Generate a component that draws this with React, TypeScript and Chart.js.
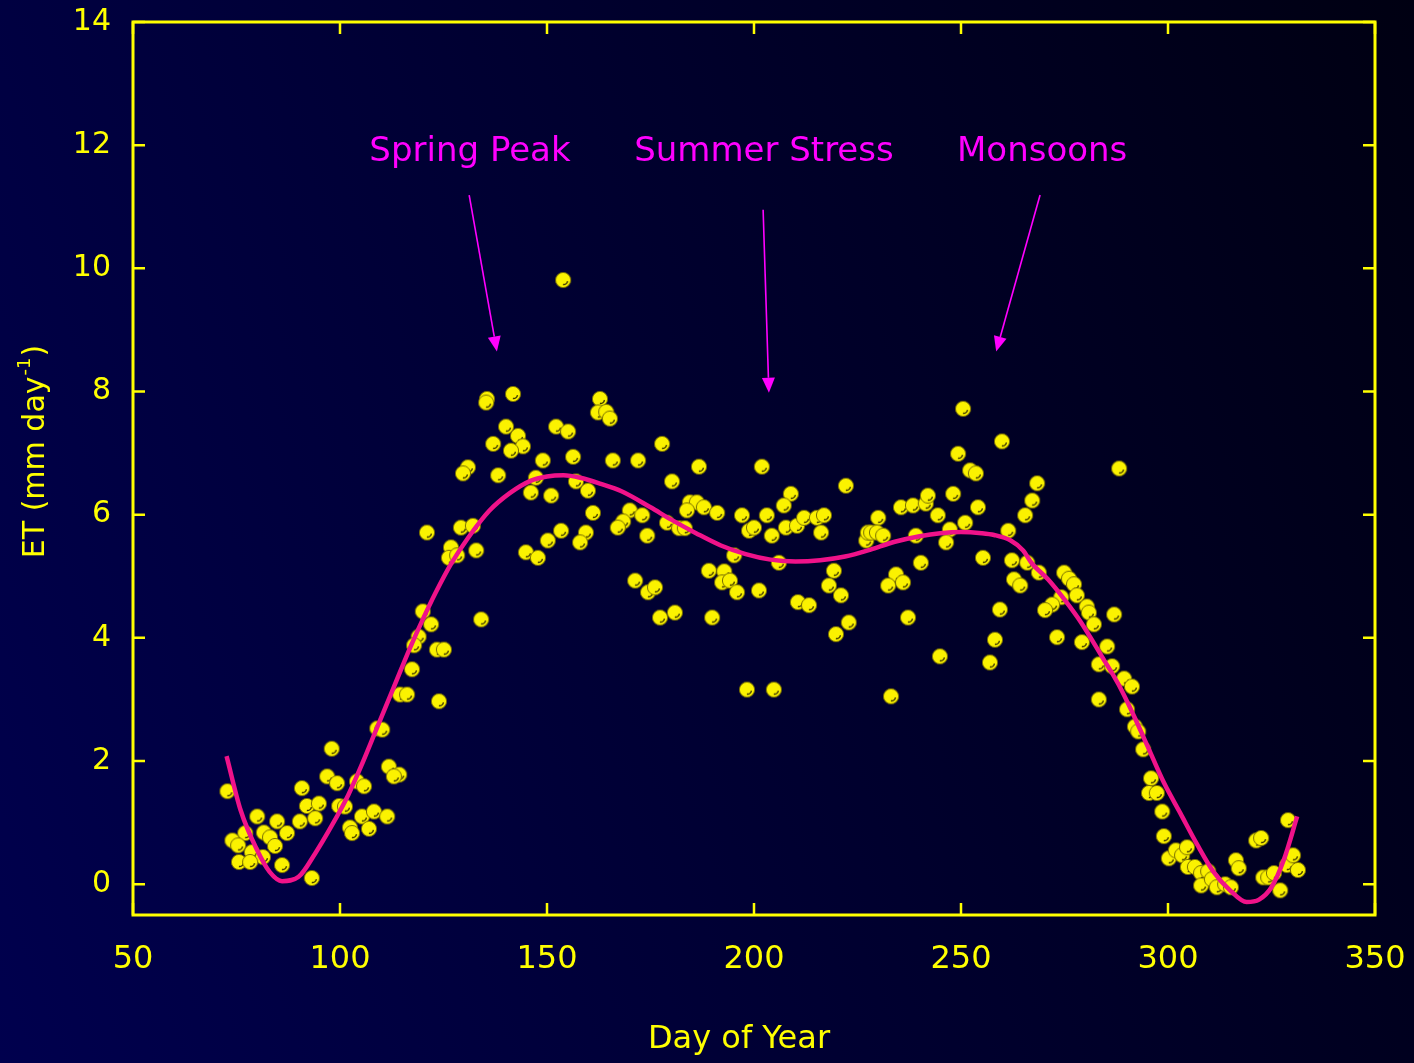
import React, { useEffect, useRef } from "react";
import { Chart, registerables } from "chart.js";

Chart.register(...registerables);

// ---- Data ----
const DAYS = [
  72.8, 114.5, 116.2, 123.9, 109, 110.2, 98, 111.8, 114.3, 113, 96.9, 99.3, 90.8, 104.1, 105.8,
  92, 94.9, 94, 99.8, 101.2, 105.3, 108.2, 111.4, 102.4, 102.9, 107, 80, 84.8, 90.3, 87.2,
  77.1, 74, 75.4, 81.6, 83.1, 84.3, 78.7, 81.4, 75.6, 78.3, 86, 93.2,
  135.5, 135.3, 141.8, 162.8, 162.3, 164.3, 165.2, 140.1, 143, 144.2, 137, 141.3, 152.2, 155.1,
  149, 156.3, 165.9, 172, 130.9, 129.7, 138.2, 147.3, 157, 146.1, 151, 159.9, 161.1, 170, 173,
  168.4, 167.1, 174.2, 121, 129.2, 132.1, 126.8, 126.3, 128.3, 132.9, 153.4, 150.2, 159.4, 158,
  144.9, 147.8, 171.3, 174.4, 134.1, 120, 122, 119, 117.9, 123.4, 125.1, 117.4, 153.9,
  177.8, 186.7, 201.9, 180.2, 222.2, 208.9, 207.2, 184.5, 186.2, 183.8, 187.9, 191.1, 179, 181.9,
  183.3, 197.1, 203.1, 198.8, 200, 204.3, 207.7, 210.4, 212.1, 215.2, 216.9, 216.2, 227.1, 227.5,
  195.2, 206, 189.1, 192.8, 192.3, 194.2, 195.9, 201.2, 219.3, 218.1, 221, 176.1, 177.3, 180.9,
  189.9, 210.6, 213.3, 222.9, 219.8, 198.3, 204.8,
  250.5, 259.9, 249.3, 252.2, 253.6, 268.4, 267.2, 265.5, 230, 235.5, 238.4, 241.5, 242, 248.1,
  244.4, 254.1, 251, 228.3, 229.7, 231.2, 239.1, 247.3, 246.4, 261.4, 255.3, 262.3, 266, 268.8,
  274.9, 276.1, 277.3, 278, 240.3, 234.3, 232.4, 236, 262.8, 264.3, 274.2, 272, 270.3, 280.4,
  280.9, 282.1, 259.4, 237.2, 273.2, 279.2, 258.2, 257, 244.9, 233.1, 283.3,
  287, 285.3, 286.5, 283.3, 289.4, 291.3, 290.1, 292, 292.8, 294, 295.9, 295.4, 297.3, 298.6,
  299, 300.2, 301.9, 303.4, 304.6, 304.8, 306.5, 308, 309.7, 308, 310.6, 311.8, 313.8, 315.2,
  316.4, 317.1, 321.3, 322.5, 323, 324.2, 325.6, 327.1, 328.7, 330.2, 331.4, 329, 288.2,
];

const ET = [
  1.51, 3.08, 3.08, 2.97, 2.53, 2.51, 2.2, 1.91, 1.78, 1.75, 1.75, 1.64, 1.56, 1.67, 1.59,
  1.27, 1.31, 1.07, 1.27, 1.26, 1.1, 1.18, 1.1, 0.92, 0.83, 0.9, 1.1, 1.02, 1.02, 0.83,
  0.83, 0.71, 0.63, 0.84, 0.76, 0.62, 0.52, 0.44, 0.36, 0.36, 0.31, 0.1,
  7.88, 7.82, 7.96, 7.88, 7.66, 7.67, 7.56, 7.43, 7.28, 7.11, 7.15, 7.04, 7.43, 7.35,
  6.88, 6.94, 6.88, 6.88, 6.77, 6.67, 6.64, 6.6, 6.54, 6.36, 6.31, 6.39, 6.03, 6.07, 5.99,
  5.89, 5.79, 5.66, 5.71, 5.79, 5.82, 5.47, 5.3, 5.34, 5.42, 5.74, 5.58, 5.71, 5.55,
  5.39, 5.3, 4.93, 4.74, 4.3, 4.43, 4.22, 4.02, 3.88, 3.81, 3.81, 3.49, 9.81,
  7.15, 6.78, 6.78, 6.54, 6.47, 6.34, 6.15, 6.2, 6.2, 6.07, 6.12, 6.03, 5.87, 5.78,
  5.78, 5.99, 5.99, 5.74, 5.79, 5.66, 5.79, 5.82, 5.95, 5.95, 5.99, 5.71, 5.58, 5.71,
  5.34, 5.22, 5.09, 5.08, 4.9, 4.93, 4.74, 4.77, 5.09, 4.85, 4.69, 4.82, 4.33, 4.41,
  4.33, 4.58, 4.53, 4.25, 4.06, 3.16, 3.16,
  7.72, 7.19, 6.99, 6.72, 6.67, 6.51, 6.23, 5.99, 5.95, 6.12, 6.15, 6.18, 6.31, 6.34,
  5.99, 6.12, 5.87, 5.71, 5.71, 5.66, 5.66, 5.76, 5.55, 5.74, 5.3, 5.26, 5.22, 5.06,
  5.06, 4.96, 4.87, 4.69, 5.22, 5.03, 4.85, 4.9, 4.95, 4.85, 4.66, 4.54, 4.45, 4.51,
  4.41, 4.22, 4.46, 4.33, 4.01, 3.93, 3.97, 3.6, 3.7, 3.05, 3.57,
  4.38, 3.86, 3.54, 3.0, 3.34, 3.21, 2.84, 2.56, 2.48, 2.19, 1.72, 1.48, 1.48, 1.18,
  0.78, 0.42, 0.55, 0.47, 0.6, 0.28, 0.28, 0.18, 0.21, -0.02, 0.08, -0.05, 0, -0.05,
  0.39, 0.26, 0.71, 0.75, 0.11, 0.11, 0.18, -0.1, 0.31, 0.47, 0.23, 1.04, 6.75,
];

const CURVE_DAYS = [
  72.6, 76, 80, 83, 86, 90, 94, 98, 102, 105, 109, 113, 117, 120, 123, 127, 131, 136, 141, 146,
  150, 154, 158, 163, 168, 175, 180, 186, 192, 198, 204, 210, 216, 222, 228, 234, 240, 245, 250,
  255, 258, 262, 265, 267, 271, 275, 279, 284, 288, 292, 295, 299, 303, 307, 311, 315, 319, 322,
  325, 328, 331.2,
];
const CURVE_ET = [
  2.08, 1.2, 0.55, 0.2, 0.05, 0.12, 0.5, 0.95, 1.45, 1.9, 2.55, 3.2, 3.85, 4.3, 4.72, 5.22, 5.63,
  6.06, 6.35, 6.55, 6.62, 6.64, 6.6, 6.5, 6.38, 6.12, 5.92, 5.7, 5.5, 5.36, 5.27, 5.24, 5.26,
  5.32, 5.43, 5.56, 5.65, 5.7, 5.72, 5.7, 5.67, 5.58, 5.42, 5.22, 4.95, 4.62, 4.25, 3.7, 3.25,
  2.7, 2.25, 1.65, 1.15, 0.65, 0.2, -0.1, -0.29, -0.25, -0.05, 0.4, 1.1,
];

const X_TICKS = [50, 100, 150, 200, 250, 300, 350];
const Y_TICKS = [0, 2, 4, 6, 8, 10, 12, 14];

const ANNOTATION_LABELS = ["Spring Peak", "Summer Stress", "Monsoons"];
const ANNOTATION_TEXT_X = [131.4, 202.4, 269.6];
const ANNOTATION_TEXT_Y = [11.89, 11.89, 11.89];
const ARROW_FROM_X = [131.2, 202.2, 269.1];
const ARROW_FROM_Y = [11.19, 10.95, 11.19];
const ARROW_TO_X = [137.9, 203.6, 258.5];
const ARROW_TO_Y = [8.65, 7.98, 8.65];

const X_TITLE = "Day of Year";
const Y_TITLE_MAIN = "ET (mm day";
const Y_TITLE_SUP = "-1";
const Y_TITLE_END = ")";

// ---- Styles ----
const YELLOW = "#ffff00";
const PINK = "#f0128a";
const MAGENTA = "#ff00ff";
const FONT = "'DejaVu Sans', sans-serif";

function makePointImage(): HTMLCanvasElement {
  const c = document.createElement("canvas");
  c.width = 18;
  c.height = 18;
  const g = c.getContext("2d")!;
  g.beginPath();
  g.arc(9, 9, 7.6, 0, Math.PI * 2);
  g.fillStyle = "#fbf200";
  g.fill();
  g.lineWidth = 1;
  g.strokeStyle = "#7a7000";
  g.stroke();
  g.beginPath();
  g.arc(9.5, 9.5, 4, 0.05 * Math.PI, 0.55 * Math.PI);
  g.lineWidth = 1.4;
  g.strokeStyle = "#3a3400";
  g.stroke();
  return c;
}

const overlayPlugin = {
  id: "overlay",
  afterDraw(chart: any) {
    const ctx: CanvasRenderingContext2D = chart.ctx;
    const { left, right, top, bottom } = chart.chartArea;
    const xs = chart.scales.x;
    const ys = chart.scales.y;
    ctx.save();
    // frame
    ctx.strokeStyle = YELLOW;
    ctx.lineWidth = 3;
    ctx.strokeRect(left, top, right - left, bottom - top);
    // inward ticks
    ctx.lineWidth = 2.5;
    const TL = 12;
    ctx.beginPath();
    for (const v of Y_TICKS) {
      const py = ys.getPixelForValue(v);
      ctx.moveTo(left, py);
      ctx.lineTo(left + TL, py);
      ctx.moveTo(right, py);
      ctx.lineTo(right - TL, py);
    }
    for (const v of X_TICKS) {
      const px = xs.getPixelForValue(v);
      ctx.moveTo(px, bottom);
      ctx.lineTo(px, bottom - TL);
      ctx.moveTo(px, top);
      ctx.lineTo(px, top + TL);
    }
    ctx.stroke();

    // annotations
    ctx.fillStyle = MAGENTA;
    ctx.strokeStyle = MAGENTA;
    ctx.font = `34px ${FONT}`;
    ctx.textAlign = "center";
    ctx.textBaseline = "middle";
    for (let i = 0; i < ANNOTATION_LABELS.length; i++) {
      ctx.fillText(
        ANNOTATION_LABELS[i],
        xs.getPixelForValue(ANNOTATION_TEXT_X[i]),
        ys.getPixelForValue(ANNOTATION_TEXT_Y[i])
      );
      const x0 = xs.getPixelForValue(ARROW_FROM_X[i]);
      const y0 = ys.getPixelForValue(ARROW_FROM_Y[i]);
      const x1 = xs.getPixelForValue(ARROW_TO_X[i]);
      const y1 = ys.getPixelForValue(ARROW_TO_Y[i]);
      const ang = Math.atan2(y1 - y0, x1 - x0);
      const HL = 15;
      const HW = 6.5;
      const bx = x1 - HL * Math.cos(ang);
      const by = y1 - HL * Math.sin(ang);
      ctx.lineWidth = 1.6;
      ctx.beginPath();
      ctx.moveTo(x0, y0);
      ctx.lineTo(bx, by);
      ctx.stroke();
      ctx.beginPath();
      ctx.moveTo(x1, y1);
      ctx.lineTo(bx + HW * Math.sin(ang), by - HW * Math.cos(ang));
      ctx.lineTo(bx - HW * Math.sin(ang), by + HW * Math.cos(ang));
      ctx.closePath();
      ctx.fill();
    }

    // axis titles
    ctx.fillStyle = YELLOW;
    ctx.font = `32px ${FONT}`;
    ctx.textAlign = "center";
    ctx.textBaseline = "middle";
    ctx.fillText(X_TITLE, (left + right) / 2 - 15, chart.height - 23);

    ctx.translate(36, (top + bottom) / 2 - 17);
    ctx.rotate(-Math.PI / 2);
    ctx.textAlign = "left";
    ctx.font = `30px ${FONT}`;
    const w1 = ctx.measureText(Y_TITLE_MAIN).width;
    const w3 = ctx.measureText(Y_TITLE_END).width;
    ctx.font = `18px ${FONT}`;
    const w2 = ctx.measureText(Y_TITLE_SUP).width;
    const total = w1 + w2 + w3 + 2;
    let cx = -total / 2;
    ctx.font = `30px ${FONT}`;
    ctx.fillText(Y_TITLE_MAIN, cx, 0);
    cx += w1 + 1;
    ctx.font = `18px ${FONT}`;
    ctx.fillText(Y_TITLE_SUP, cx, -11);
    cx += w2 + 1;
    ctx.font = `30px ${FONT}`;
    ctx.fillText(Y_TITLE_END, cx, 0);
    ctx.restore();
  },
};

export default function App() {
  const ref = useRef<HTMLCanvasElement | null>(null);

  useEffect(() => {
    document.body.style.margin = "0";
    const canvas = ref.current;
    if (!canvas) return;
    const pointImg = makePointImage();
    const points = DAYS.map((d, i) => ({ x: d, y: ET[i] }));
    const curve = CURVE_DAYS.map((d, i) => ({ x: d, y: CURVE_ET[i] }));

    const chart = new Chart(canvas, {
      type: "scatter",
      data: {
        datasets: [
          {
            type: "line",
            data: curve,
            borderColor: PINK,
            borderWidth: 4.5,
            pointRadius: 0,
            tension: 0.4,
            cubicInterpolationMode: "monotone",
            fill: false,
            order: 0,
          } as any,
          {
            type: "scatter",
            data: points,
            pointStyle: pointImg as any,
            pointRadius: 8,
            order: 1,
          } as any,
        ],
      },
      options: {
        responsive: false,
        animation: false,
        events: [],
        layout: { padding: { left: 0, right: 39, top: 22, bottom: 0 } },
        plugins: {
          legend: { display: false },
          tooltip: { enabled: false },
          title: { display: false },
        },
        scales: {
          x: {
            type: "linear",
            min: 50,
            max: 350,
            afterBuildTicks: (s: any) => {
              s.ticks = X_TICKS.map((v) => ({ value: v }));
            },
            afterFit: (s: any) => {
              s.height = 148;
              s.paddingLeft = 0;
              s.paddingRight = 0;
              s.paddingTop = 0;
              s.paddingBottom = 0;
            },
            grid: { display: false, drawTicks: false },
            border: { display: false },
            ticks: {
              color: YELLOW,
              font: { family: FONT, size: 32 },
              padding: 25,
              maxRotation: 0,
              autoSkip: false,
            },
          },
          y: {
            type: "linear",
            min: -0.5,
            max: 14,
            afterBuildTicks: (s: any) => {
              s.ticks = Y_TICKS.map((v) => ({ value: v }));
            },
            afterFit: (s: any) => {
              s.width = 133;
              s.paddingLeft = 0;
              s.paddingRight = 0;
              s.paddingTop = 0;
              s.paddingBottom = 0;
            },
            grid: { display: false, drawTicks: false },
            border: { display: false },
            ticks: {
              color: YELLOW,
              font: { family: FONT, size: 30 },
              padding: 22,
              autoSkip: false,
            },
          },
        },
      },
      plugins: [overlayPlugin],
    });
    return () => chart.destroy();
  }, []);

  return (
    <div
      style={{
        width: 1414,
        height: 1063,
        background: "linear-gradient(70deg, #00004e 0%, #000036 40%, #000012 100%)",
      }}
    >
      <canvas ref={ref} width={1414} height={1063} style={{ display: "block" }} />
    </div>
  );
}
